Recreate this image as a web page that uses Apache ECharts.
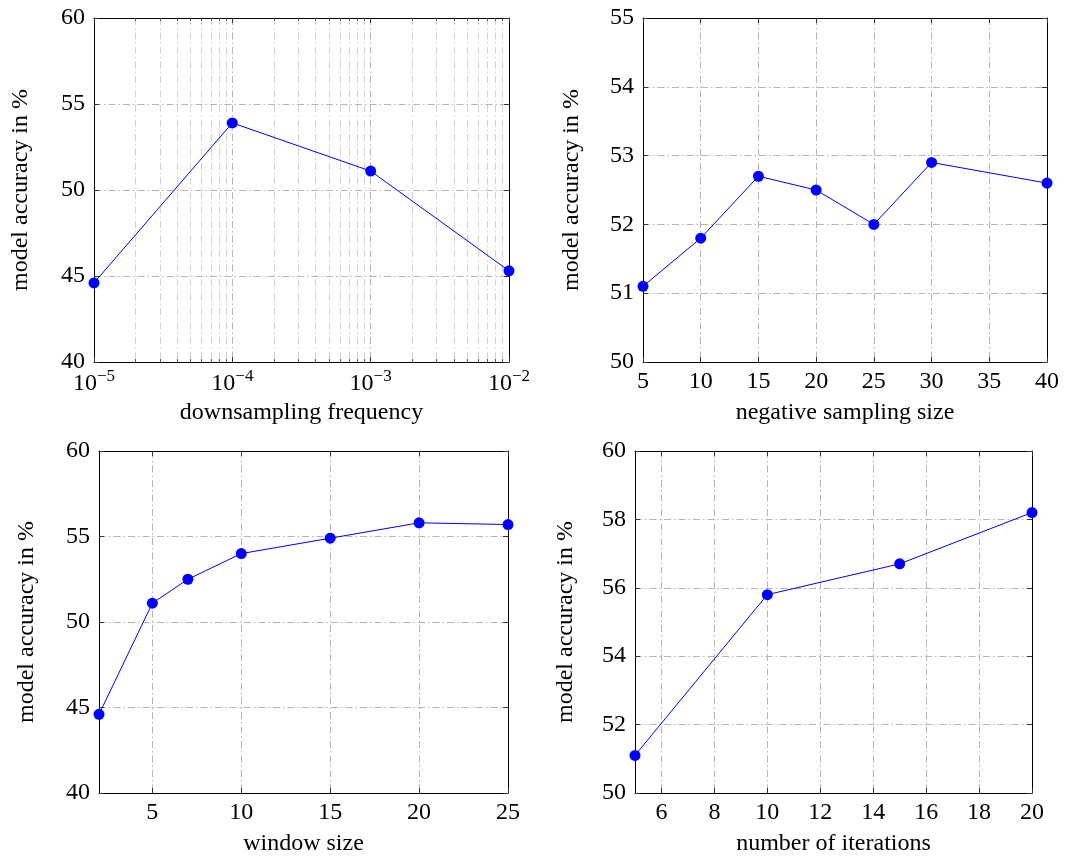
<!DOCTYPE html>
<html>
<head>
<meta charset="utf-8">
<title>model accuracy</title>
<script src="https://cdn.jsdelivr.net/npm/echarts@6/dist/echarts.min.js"></script>
<style>
  html, body { margin: 0; padding: 0; background: #fff; }
  #chart { width: 1076px; height: 857px; }
</style>
</head>
<body>
<div id="chart"></div>
<script>
// Downsampling frequency (log scale)
const freqX = [1e-5, 1e-4, 1e-3, 1e-2];
const freqAcc = [44.6, 53.9, 51.1, 45.3];
const freqMajor = [1e-5, 1e-4, 1e-3, 1e-2];
const freqMinorMult = [2, 3, 4, 5, 6, 7, 8, 9];
const freqYTicks = [40, 45, 50, 55, 60];

// Negative sampling size
const negX = [5, 10, 15, 20, 25, 30, 40];
const negAcc = [51.1, 51.8, 52.7, 52.5, 52.0, 52.9, 52.6];
const negXTicks = [5, 10, 15, 20, 25, 30, 35, 40];
const negYTicks = [50, 51, 52, 53, 54, 55];

// Window size
const winX = [2, 5, 7, 10, 15, 20, 25];
const winAcc = [44.6, 51.1, 52.5, 54.0, 54.9, 55.8, 55.7];
const winXTicks = [5, 10, 15, 20, 25];
const winYTicks = [40, 45, 50, 55, 60];

// Number of iterations
const iterX = [5, 10, 15, 20];
const iterAcc = [51.1, 55.8, 56.7, 58.2];
const iterXTicks = [6, 8, 10, 12, 14, 16, 18, 20];
const iterYTicks = [50, 52, 54, 56, 58, 60];

const yName = 'model accuracy in %';
const FONT = 'Liberation Serif';
const NAME_SIZE = 24;
const TICK_SIZE = 24;
const BLACK = '#000';
const gridLine = { color: '#b5b5b5', width: 1, type: [7, 3, 1.5, 3] };
const minorGridLine = { color: '#d2d2d2', width: 1, type: [7, 3, 1.5, 3] };

// minor decade ticks 2..9 × 10^k inside the log range
const freqMinor = [];
for (let k = 0; k < freqMajor.length - 1; k++) {
  freqMinorMult.forEach(m => freqMinor.push(m * freqMajor[k]));
}

const grids = [
  { left: 94, top: 18, width: 415, height: 344 },
  { left: 643, top: 18, width: 404, height: 344 },
  { left: 99, top: 451, width: 409, height: 344 },
  { left: 635, top: 451, width: 397, height: 344 }
];

const xAxes = [];
const yAxes = [];
const series = [];

function supLabel(v) {
  const e = Math.round(Math.log10(v));
  return '{b|10}{s|\u2212' + Math.abs(e) + '}';
}

function addX(cfg) {
  xAxes.push(cfg);
  return xAxes.length - 1;
}
function addY(cfg) {
  yAxes.push(cfg);
  return yAxes.length - 1;
}

const nameStyle = { fontFamily: FONT, fontSize: NAME_SIZE, color: BLACK };
const tickStyle = { color: '#333' };

function linearX(gi, min, max, ticks, name) {
  const main = addX({
    gridIndex: gi, type: 'value', position: 'bottom', min: min, max: max,
    name: name, nameLocation: 'middle', nameGap: 39,
    nameTextStyle: nameStyle,
    axisLine: { show: true, lineStyle: { color: BLACK, width: 1 } },
    axisTick: { show: true, inside: true, length: 5, customValues: ticks, lineStyle: tickStyle },
    axisLabel: { show: true, customValues: ticks, margin: 8, fontFamily: FONT, fontSize: TICK_SIZE, color: BLACK },
    splitLine: { show: true, lineStyle: gridLine }
  });
  addX({
    gridIndex: gi, type: 'value', position: 'top', min: min, max: max,
    axisLine: { show: true, lineStyle: { color: BLACK, width: 1 } },
    axisTick: { show: true, inside: true, length: 5, customValues: ticks, lineStyle: tickStyle },
    axisLabel: { show: false },
    splitLine: { show: false }
  });
  return main;
}

function linearY(gi, ticks, name, gap) {
  const min = ticks[0], max = ticks[ticks.length - 1];
  const main = addY({
    gridIndex: gi, type: 'value', position: 'left', min: min, max: max,
    name: name, nameLocation: 'middle', nameGap: gap, nameRotate: 90,
    nameTextStyle: nameStyle,
    axisLine: { show: true, lineStyle: { color: BLACK, width: 1 } },
    axisTick: { show: true, inside: true, length: 5, customValues: ticks, lineStyle: tickStyle },
    axisLabel: { show: true, customValues: ticks, margin: 9, fontFamily: FONT, fontSize: TICK_SIZE, color: BLACK },
    splitLine: { show: true, lineStyle: gridLine }
  });
  addY({
    gridIndex: gi, type: 'value', position: 'right', min: min, max: max,
    axisLine: { show: true, lineStyle: { color: BLACK, width: 1 } },
    axisTick: { show: true, inside: true, length: 5, customValues: ticks, lineStyle: tickStyle },
    axisLabel: { show: false },
    splitLine: { show: false }
  });
  return main;
}

function addLine(xi, yi, xs, ys) {
  series.push({
    type: 'line', xAxisIndex: xi, yAxisIndex: yi,
    data: xs.map((x, i) => [x, ys[i]]),
    clip: false,
    symbol: 'circle', symbolSize: 11,
    itemStyle: { color: '#0000ff' },
    lineStyle: { color: '#0000ff', width: 1 },
    emphasis: { disabled: true },
    animation: false
  });
}

// Panel 1: log-scale frequency
const logMin = freqMajor[0], logMax = freqMajor[freqMajor.length - 1];
const p1x = addX({
  gridIndex: 0, type: 'log', logBase: 10, position: 'bottom', min: logMin, max: logMax,
  name: 'downsampling frequency', nameLocation: 'middle', nameGap: 39,
  nameTextStyle: nameStyle,
  axisLine: { show: true, lineStyle: { color: BLACK, width: 1 } },
  axisTick: { show: true, inside: true, length: 5, customValues: freqMajor, lineStyle: tickStyle },
  axisLabel: {
    show: true, customValues: freqMajor, margin: 6, formatter: supLabel,
    rich: {
      b: { fontFamily: FONT, fontSize: TICK_SIZE, color: BLACK, lineHeight: 28, verticalAlign: 'bottom' },
      s: { fontFamily: FONT, fontSize: 17, color: BLACK, lineHeight: 16, verticalAlign: 'top' }
    }
  },
  splitLine: { show: true, lineStyle: gridLine }
});
addX({
  gridIndex: 0, type: 'log', logBase: 10, position: 'bottom', min: logMin, max: logMax,
  axisLine: { show: false },
  axisTick: { show: true, inside: true, length: 3, customValues: freqMinor, lineStyle: { color: '#555' } },
  axisLabel: { show: false },
  splitLine: { show: true, lineStyle: minorGridLine }
});
addX({
  gridIndex: 0, type: 'log', logBase: 10, position: 'top', min: logMin, max: logMax,
  axisLine: { show: true, lineStyle: { color: BLACK, width: 1 } },
  axisTick: { show: true, inside: true, length: 5, customValues: freqMajor, lineStyle: tickStyle },
  axisLabel: { show: false },
  splitLine: { show: false }
});
addX({
  gridIndex: 0, type: 'log', logBase: 10, position: 'top', min: logMin, max: logMax,
  axisLine: { show: false },
  axisTick: { show: true, inside: true, length: 3, customValues: freqMinor, lineStyle: { color: '#555' } },
  axisLabel: { show: false },
  splitLine: { show: false }
});
const p1y = linearY(0, freqYTicks, yName, 61);
addLine(p1x, p1y, freqX, freqAcc);

// Panel 2: negative sampling size
const p2x = linearX(1, 5, 40, negXTicks, 'negative sampling size');
const p2y = linearY(1, negYTicks, yName, 59);
addLine(p2x, p2y, negX, negAcc);

// Panel 3: window size
const p3x = linearX(2, 2, 25, winXTicks, 'window size');
const p3y = linearY(2, winYTicks, yName, 60);
addLine(p3x, p3y, winX, winAcc);

// Panel 4: number of iterations
const p4x = linearX(3, 5, 20, iterXTicks, 'number of iterations');
const p4y = linearY(3, iterYTicks, yName, 57);
addLine(p4x, p4y, iterX, iterAcc);

const chart = echarts.init(document.getElementById('chart'), null, { renderer: 'canvas' });
chart.setOption({
  animation: false,
  backgroundColor: '#fff',
  grid: grids,
  xAxis: xAxes,
  yAxis: yAxes,
  series: series
});
</script>
</body>
</html>
